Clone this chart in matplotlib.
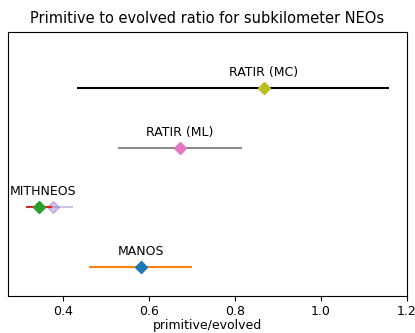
import matplotlib
matplotlib.use("Agg")
import matplotlib.pyplot as plt

# survey ratios with lower / upper uncertainties
surveys = ["MANOS", "MITHNEOS", "RATIR (ML)", "RATIR (MC)"]
ypos = [1, 2, 3, 4]
ratio = [0.58, 0.344, 0.672, 0.867]
err_low = [0.12, 0.03, 0.145, 0.434]
err_high = [0.12, 0.03, 0.145, 0.291]
point_colors = ["C0", "C2", "C6", "C8"]
line_colors = ["C1", "C3", "0.45", "k"]
line_widths = [1.5, 1.5, 1.2, 1.5]

# secondary MITHNEOS estimate
mith_alt_ratio = 0.377
mith_alt_err = 0.046

fig, ax = plt.subplots(figsize=(4.15, 3.33), dpi=100)

ax.errorbar(mith_alt_ratio, 2, xerr=mith_alt_err, fmt="D", color="C4",
            ecolor="C4", alpha=0.4, markersize=6, elinewidth=1.5, capsize=0)

for y, r, lo, hi, pc, lc, lw in zip(ypos, ratio, err_low, err_high,
                                    point_colors, line_colors, line_widths):
    ax.errorbar(r, y, xerr=[[lo], [hi]], fmt="D", color=pc, ecolor=lc,
                markersize=6, elinewidth=lw, capsize=0, zorder=3)

label_x = [0.58, 0.353, 0.672, 0.867]
for name, x, y in zip(surveys, label_x, ypos):
    ax.text(x, y + 0.15, name, ha="center", va="bottom", fontsize=9)

ax.set_xlim(0.272, 1.2)
ax.set_ylim(0.5, 4.95)
ax.set_yticks([])
ax.set_xticks([0.4, 0.6, 0.8, 1.0, 1.2])
ax.tick_params(labelsize=9, pad=2.5)
ax.set_xlabel("primitive/evolved", fontsize=9, labelpad=1)
ax.set_title("Primitive to evolved ratio for subkilometer NEOs", fontsize=10.5)

fig.subplots_adjust(left=0.02, right=0.98, top=0.905, bottom=0.11)
fig.savefig("out.png", dpi=100)
